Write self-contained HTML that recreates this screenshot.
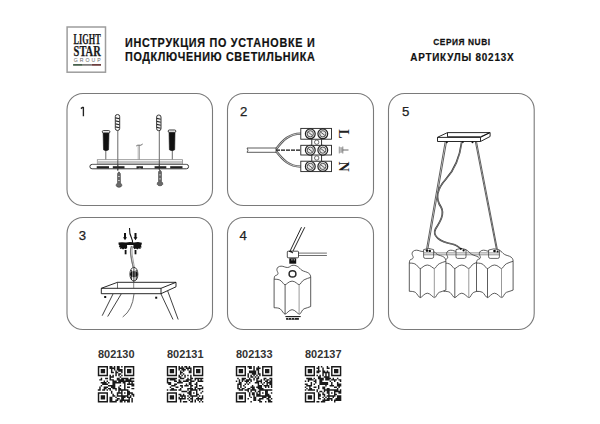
<!DOCTYPE html>
<html><head><meta charset="utf-8">
<style>
html,body{margin:0;padding:0;background:#fff;}
body{width:600px;height:424px;overflow:hidden;position:relative;}
svg{position:absolute;left:0;top:0;}
</style></head>
<body>
<svg width="600" height="424" viewBox="0 0 600 424">
<defs>
<g id="shade" stroke="#333" stroke-width="0.8" stroke-linejoin="round" fill="none">
  <path d="M0 13.8 C0.2 12 0.3 10.8 1.2 10.3 C2.5 9.8 3.8 9.5 3.9 8.2 C4 6.8 2.6 5.8 2.8 4 C3 2.2 4.5 1 7 0.9 C9.5 0.8 11 2.3 13.6 2.2 C16 2.1 16.5 0 19 0 C21.5 0 23 0.8 24.5 2 C26 3.2 27 5 29.5 5.8 C32 6.6 34.5 7.2 35.8 9 C36.5 10 36.6 11 36.6 12 L36.6 40.8 C34.5 41.8 32.5 42 30 43 C27.5 44 27 48.3 25.3 48.3 C23.5 48.3 21 43.9 18 43.9 C15 43.9 12.5 48.3 11 48.3 C9.5 48.3 8 44.5 6 43 C4.5 42.2 2.5 42 0 42 Z" fill="#fff" stroke="none"/>
  <path d="M0 13.8 C0.2 12 0.3 10.8 1.2 10.3 C2.5 9.8 3.8 9.5 3.9 8.2 C4 6.8 2.6 5.8 2.8 4 C3 2.2 4.5 1 7 0.9 C9.5 0.8 11 2.3 13.6 2.2 C16 2.1 16.5 0 19 0 C21.5 0 23 0.8 24.5 2 C26 3.2 27 5 29.5 5.8 C32 6.6 34.5 7.2 35.8 9 C36.5 10 36.6 11 36.6 12"/>
  <path d="M0 13.8 C3 13.8 5 13.9 7 15.5 C9 17.2 9.5 19.2 11 19.2 C12.5 19.2 14.5 15.7 18 15.7 C21.5 15.7 23.5 19.2 25 19.2 C26.5 19.2 27.5 15.5 30 14.4 C32.5 13.3 34.5 12.5 36.6 12"/>
  <path d="M0 42 C2.5 42 4.5 42.2 6 43 C8 44.5 9.5 48.3 11 48.3 C12.5 48.3 15 43.9 18 43.9 C21 43.9 23.5 48.3 25.3 48.3 C27 48.3 27.5 44 30 43 C32.5 42 34.5 41.8 36.6 40.8"/>
  <path d="M0 13.8 L0 42 M36.6 12 L36.6 40.8 M11 19.2 L11 48.3"/>
  <path d="M25 19.2 L25 48.3" stroke="#999" stroke-width="1"/>
</g>
</defs>
<!-- logo -->
<rect x="67.1" y="27" width="38.4" height="45.2" fill="#fff" stroke="#9d9d9d" stroke-width="1.5"/>
<text x="73.6" y="43.9" font-family="Liberation Serif" font-weight="bold" font-size="14" textLength="27.1" lengthAdjust="spacingAndGlyphs" fill="#1a1a1a" stroke="#1a1a1a" stroke-width="0.25">LIGHT</text>
<text x="73.6" y="55.8" font-family="Liberation Serif" font-weight="bold" font-size="14" textLength="27.1" lengthAdjust="spacingAndGlyphs" fill="#1a1a1a" stroke="#1a1a1a" stroke-width="0.25">STAR</text>
<text x="73.8" y="61.7" font-family="Liberation Sans" font-size="5.2" textLength="26.8" lengthAdjust="spacing" fill="#666">GROUP</text>
<rect x="73.1" y="64.1" width="9.6" height="1.6" fill="#34503a"/>
<rect x="82.7" y="64.1" width="9" height="1.6" fill="#727070"/>
<rect x="91.7" y="64.1" width="9.3" height="1.6" fill="#5e2c2c"/>

<!-- header -->
<g font-family="Liberation Sans" font-weight="bold" fill="#111">
<text transform="translate(125,0) scale(0.9,1)" x="0" y="46.6" font-size="12" textLength="210.8" lengthAdjust="spacing" stroke="#111" stroke-width="0.2">ИНСТРУКЦИЯ ПО УСТАНОВКЕ И</text>
<text transform="translate(125,0) scale(0.9,1)" x="0" y="60.7" font-size="12" textLength="210.8" lengthAdjust="spacing" stroke="#111" stroke-width="0.2">ПОДКЛЮЧЕНИЮ СВЕТИЛЬНИКА</text>
<text transform="translate(433.3,0) scale(0.86,1)" x="0" y="44.8" font-size="9.7" textLength="66" lengthAdjust="spacing" stroke="#111" stroke-width="0.25">СЕРИЯ NUBI</text>
<text transform="translate(410.2,0) scale(0.9,1)" x="0" y="60.9" font-size="11" textLength="114.9" lengthAdjust="spacing" stroke="#111" stroke-width="0.2">АРТИКУЛЫ 80213X</text>
</g>

<!-- panels -->
<g fill="none" stroke="#7a7a7a" stroke-width="1.1">
<rect x="67" y="93.5" width="145.5" height="112" rx="16" ry="16"/>
<rect x="227.5" y="93.5" width="146" height="112" rx="16" ry="16"/>
<rect x="67" y="217.5" width="145.5" height="112" rx="16" ry="16"/>
<rect x="227.5" y="217.5" width="146" height="112" rx="16" ry="16"/>
<rect x="388.5" y="93.5" width="145.7" height="236" rx="16" ry="16"/>
</g>
<g font-family="Liberation Sans" font-size="13.2" fill="#222" stroke="#222" stroke-width="0.25">

<text x="240" y="116.3">2</text>
<text x="78.8" y="240">3</text>
<text x="239.5" y="240">4</text>
<text x="401.9" y="116.3">5</text>
</g>

<path d="M83.4 116.2 L83.4 107.3 L82.6 107.3 L80.9 108.6" fill="none" stroke="#222" stroke-width="1.35" stroke-linejoin="round"/>
<!-- article numbers -->
<g font-family="Liberation Sans" font-weight="bold" font-size="10" fill="#333">
<text x="98" y="357.8" textLength="36.5" lengthAdjust="spacingAndGlyphs">802130</text>
<text x="167" y="357.8" textLength="36.5" lengthAdjust="spacingAndGlyphs">802131</text>
<text x="236" y="357.8" textLength="36.5" lengthAdjust="spacingAndGlyphs">802133</text>
<text x="305" y="357.8" textLength="36.5" lengthAdjust="spacingAndGlyphs">802137</text>
</g>

<!-- PANEL1 -->
<g stroke="#222" stroke-width="0.9" fill="#f4f4f4">
  <rect x="115.3" y="114.5" width="4.4" height="16" rx="2.1" ry="2.1"/>
  <rect x="156.6" y="115" width="4.4" height="15.7" rx="2.1" ry="2.1"/>
</g>
<g fill="#222">
  <path d="M115.6 117.3 L119.4 118.3 L119.4 119.2 L115.6 118.4Z M115.6 120.3 L119.4 121.3 L119.4 122.2 L115.6 121.4Z M115.6 123.3 L119.4 124.3 L119.4 125.2 L115.6 124.4Z M115.6 126.3 L119.4 127.3 L119.4 128.2 L115.6 127.4Z"/>
  <path d="M156.9 117.8 L160.7 118.8 L160.7 119.7 L156.9 118.9Z M156.9 120.8 L160.7 121.8 L160.7 122.7 L156.9 121.9Z M156.9 123.8 L160.7 124.8 L160.7 125.7 L156.9 124.9Z M156.9 126.8 L160.7 127.8 L160.7 128.7 L156.9 127.9Z"/>
</g>
<g stroke="#444" stroke-width="0.8" fill="none">
  <line x1="117.8" y1="130.5" x2="117.8" y2="171"/>
  <line x1="159.3" y1="130.7" x2="159.3" y2="170"/>
  <line x1="105.8" y1="150" x2="105.8" y2="160"/>
  <line x1="172.3" y1="150" x2="172.3" y2="160"/>
</g>
<g stroke="#777" stroke-width="0.6" fill="none">
  <line x1="138.2" y1="145.5" x2="138.2" y2="160"/>
  <line x1="139.5" y1="145.5" x2="139.5" y2="160"/>
</g>
<path d="M136.2 146 Q137.8 144.8 139 145.2 Q141 145.8 142.7 144" stroke="#333" stroke-width="0.7" fill="none"/>
<!-- dowels black -->
<g fill="#111" stroke="#1a1a1a" stroke-width="0.6">
  <path d="M103.1 132.6 L109 132.6 L108.6 149.8 Q106 151.6 103.5 149.8 Z"/>
  <path d="M169 132.2 L175 132.2 L174.7 149.8 Q172 151.6 169.4 149.8 Z"/>
</g>
<g fill="#fff" stroke="#222" stroke-width="0.9">
  <rect x="102.3" y="130.6" width="7.6" height="2.3" rx="1.1"/>
  <rect x="168.2" y="130" width="7.6" height="2.3" rx="1.1"/>
</g>
<!-- bracket -->
<rect x="97.3" y="159.7" width="85.2" height="4.6" fill="#fff" stroke="#888" stroke-width="0.8"/>
<rect x="97.8" y="161" width="84.2" height="3.6" fill="#c4c4c4"/>
<rect x="89.9" y="164.4" width="98.7" height="4.4" rx="2.2" ry="2.2" fill="none" stroke="#222" stroke-width="0.9"/>
<line x1="92" y1="164.4" x2="186.5" y2="164.4" stroke="#999" stroke-width="0.6"/>
<g fill="#222">
  <rect x="96.7" y="166.2" width="12.3" height="2.2"/>
  <rect x="112.8" y="166.2" width="11.7" height="2.2"/>
  <path d="M136.5 166.2 L143 166.2 L143 168.4 L141.5 168.4 Q139.8 167.2 138 168.4 L136.5 168.4 Z"/>
  <rect x="154.6" y="166.2" width="11.7" height="2.2"/>
  <rect x="170.2" y="166.2" width="12.3" height="2.2"/>
</g>
<line x1="117.8" y1="159.7" x2="117.8" y2="170" stroke="#333" stroke-width="0.8"/>
<line x1="159.3" y1="159.7" x2="159.3" y2="169.5" stroke="#333" stroke-width="0.8"/>
<!-- lower screws -->
<g fill="#6a6a6a" stroke="#333" stroke-width="0.6">
  <path d="M118.9 171.8 L117.6 173.5 L117.6 183 Q115.9 184.2 116.2 185.8 Q117 187.3 119 187.3 Q121 187.3 121.8 185.8 Q122 184.2 120.4 183 L120.3 173.5 Z"/>
  <path d="M160 170 L158.6 171.7 L158.6 181.5 Q157 182.7 157.2 184.3 Q158 185.8 160 185.8 Q162 185.8 162.8 184.3 Q163 182.7 161.4 181.5 L161.4 171.7 Z"/>
</g>
<g fill="#ddd">
  <rect x="118" y="176" width="1.8" height="0.8"/><rect x="118" y="180" width="1.8" height="0.8"/>
  <rect x="159.1" y="174.5" width="1.8" height="0.8"/><rect x="159.1" y="178.5" width="1.8" height="0.8"/>
</g>
<!-- PANEL2 -->
<g fill="none">
  <path d="M276 149.3 C 283 140, 289 133.8, 300.8 133.6" stroke="#555" stroke-width="2.3"/>
  <path d="M276 149.3 C 283 140, 289 133.8, 300.8 133.6" stroke="#ddd" stroke-width="0.8"/>
  <path d="M276 151 C 283 160, 289 166.4, 300.8 166.6" stroke="#555" stroke-width="2.3"/>
  <path d="M276 151 C 283 160, 289 166.4, 300.8 166.6" stroke="#ddd" stroke-width="0.8"/>
  <line x1="276" y1="150.2" x2="300.8" y2="150.2" stroke="#111" stroke-width="1.3" stroke-dasharray="4 1"/>
</g>
<path d="M247 148 L276 148 L276 152.3 L247 152.3 L248 150.2 Z" fill="#fff" stroke="#333" stroke-width="0.8"/>
<g stroke="#222" stroke-width="0.9" fill="#fff">
  <rect x="311.8" y="138.7" width="9.8" height="7"/>
  <rect x="311.8" y="154.5" width="9.8" height="7"/>
  <rect x="300.8" y="128.4" width="30.7" height="10.8"/>
  <rect x="300.8" y="145.3" width="30.7" height="9.7"/>
  <rect x="300.8" y="161.2" width="30.7" height="10.4"/>
</g>
<g stroke="#333" stroke-width="0.7" fill="none">
  <circle cx="316.7" cy="142.2" r="2.2"/>
  <circle cx="316.7" cy="158" r="2.2"/>
</g>
<g id="scr">
</g>
<circle cx="310.3" cy="133.8" r="4.9" fill="#e8e8e8" stroke="#222" stroke-width="1.2"/><circle cx="310.3" cy="133.8" r="3.1" fill="none" stroke="#444" stroke-width="0.9"/><line x1="308.3" y1="132.20000000000002" x2="312.3" y2="135.4" stroke="#333" stroke-width="0.8"/><circle cx="322.8" cy="133.8" r="4.9" fill="#e8e8e8" stroke="#222" stroke-width="1.2"/><circle cx="322.8" cy="133.8" r="3.1" fill="none" stroke="#444" stroke-width="0.9"/><line x1="320.8" y1="132.20000000000002" x2="324.8" y2="135.4" stroke="#333" stroke-width="0.8"/><circle cx="310.3" cy="150.15" r="4.9" fill="#e8e8e8" stroke="#222" stroke-width="1.2"/><circle cx="310.3" cy="150.15" r="3.1" fill="none" stroke="#444" stroke-width="0.9"/><line x1="308.3" y1="148.55" x2="312.3" y2="151.75" stroke="#333" stroke-width="0.8"/><circle cx="322.8" cy="150.15" r="4.9" fill="#e8e8e8" stroke="#222" stroke-width="1.2"/><circle cx="322.8" cy="150.15" r="3.1" fill="none" stroke="#444" stroke-width="0.9"/><line x1="320.8" y1="148.55" x2="324.8" y2="151.75" stroke="#333" stroke-width="0.8"/><circle cx="310.3" cy="166.4" r="4.9" fill="#e8e8e8" stroke="#222" stroke-width="1.2"/><circle cx="310.3" cy="166.4" r="3.1" fill="none" stroke="#444" stroke-width="0.9"/><line x1="308.3" y1="164.8" x2="312.3" y2="168.0" stroke="#333" stroke-width="0.8"/><circle cx="322.8" cy="166.4" r="4.9" fill="#e8e8e8" stroke="#222" stroke-width="1.2"/><circle cx="322.8" cy="166.4" r="3.1" fill="none" stroke="#444" stroke-width="0.9"/><line x1="320.8" y1="164.8" x2="324.8" y2="168.0" stroke="#333" stroke-width="0.8"/>
<g font-family="Liberation Serif" font-weight="bold" font-size="14" fill="#222">
  <text transform="translate(339,129.3) rotate(90)" x="0" y="0">L</text>
  <text transform="translate(339,161.6) rotate(90)" x="0" y="0">N</text>
</g>
<path d="M338.6 146.6 L342.6 147.8 L342.6 152.2 L338.6 153.4 Z" fill="#c4c4c4"/>
<g stroke="#999" stroke-width="0.7">
  <line x1="339.5" y1="146.6" x2="339.5" y2="153.4"/>
  <line x1="341.3" y1="147.3" x2="341.3" y2="152.7"/>
</g>
<line x1="342.8" y1="146.5" x2="342.8" y2="153.5" stroke="#666" stroke-width="0.8"/>
<line x1="342.8" y1="150" x2="348.5" y2="150" stroke="#444" stroke-width="0.8"/>

<!-- PANEL3 -->
<path d="M129.5 228 Q129.3 234 131.5 238 Q133 241 132.3 243" fill="none" stroke="#111" stroke-width="1.1"/>
<path d="M131.5 246 Q130 250 130.6 254 Q131.5 262 133.3 267.4" fill="none" stroke="#777" stroke-width="1.1"/>
<g fill="#111">
  <path d="M118.5 242.6 L122 242.2 L126 242.6 L130 242.1 L134 242.5 L138 242.1 L141.9 242.7 L141.6 244.6 L141 246 L141.8 247.2 L140.2 247.8 L140.8 249 L138.5 248.6 L137.3 249.4 L136 248.5 L134.5 249.2 L133.2 247.5 L133.5 245 L127 245 L127.2 247.6 L126 249.3 L124.5 248.4 L123 249.4 L121.8 248.5 L119.8 249.1 L120.4 247.6 L118.8 247 L119.6 245.8 L118.6 244.6 Z"/>
  <path d="M124 233 L126 233 L126 237.3 L127 237.3 L125 240.2 L123 237.3 L124 237.3 Z"/>
  <path d="M134.5 233 L136.5 233 L136.5 237.3 L137.5 237.3 L135.5 240.2 L133.5 237.3 L134.5 237.3 Z"/>
  <rect x="124.7" y="250" width="1.8" height="4.3"/>
  <rect x="134.6" y="250" width="1.8" height="4.3"/>
</g>
<!-- oval connector -->
<path d="M131.5 246 Q130 250 130.8 255 Q132 261 133 267.4 M132.8 246 Q131.5 250 132.2 255 Q133.3 261 134.4 267.4" fill="none" stroke="#777" stroke-width="0.7"/>
<ellipse cx="133.9" cy="274.2" rx="4" ry="6.9" fill="#fff" stroke="#222" stroke-width="0.9"/>
<ellipse cx="133.9" cy="274.2" rx="3.8" ry="3" fill="#111"/>
<path d="M131.6 270 L131.6 280 M133.9 268 L133.9 281 M136.2 270 L136.2 280" stroke="#111" stroke-width="0.8"/>
<path d="M132.7 271.5 L132.7 277 M135.1 271.5 L135.1 277" stroke="#fff" stroke-width="0.6"/>
<line x1="133.7" y1="280.5" x2="133.7" y2="288.3" stroke="#444" stroke-width="0.8"/>
<!-- frame -->
<g stroke="#111" stroke-width="0.9" fill="#fff" stroke-linejoin="round">
  <path d="M101.3 288.3 L117.5 282.3 L176 282.3 L176 286.8 L161 293.7 L101.3 293.7 Z"/>
  <path d="M101.3 288.3 L161 288.3 L176 282.3 M161 288.3 L161 293.7" fill="none"/>
  <line x1="117.5" y1="282.3" x2="117.5" y2="288.3" stroke-width="0.6"/>
</g>
<line x1="133.7" y1="282.3" x2="133.7" y2="288.3" stroke="#555" stroke-width="0.7"/>
<g stroke="#111" stroke-width="0.8" fill="none">
  <line x1="113" y1="294" x2="102.2" y2="315.7"/>
  <line x1="121.2" y1="294" x2="107.7" y2="316.5"/>
  <line x1="161" y1="294" x2="173" y2="319.5"/>
  <line x1="167.7" y1="291" x2="178.2" y2="319.5"/>
  <path d="M134 294 Q132.5 310 122.7 317" stroke="#444"/>
</g>
<rect x="104.2" y="296" width="2" height="2" fill="#111"/>
<rect x="155.2" y="296.7" width="2" height="2" fill="#111"/>

<!-- PANEL4 -->
<g stroke="#1a1a1a" stroke-width="0.95" fill="none">
  <line x1="301.5" y1="227.2" x2="290.1" y2="251"/>
  <line x1="304.8" y1="227.2" x2="293" y2="251"/>
</g>
<g transform="translate(274.1 265.25) scale(1 1.012)"><use href="#shade"/></g>
<ellipse cx="292.5" cy="273.9" rx="3.4" ry="3.05" fill="#fff" stroke="#2a2a2a" stroke-width="1.5"/>
<rect x="289.3" y="258.3" width="6.9" height="5.4" fill="#111"/>
<g fill="#fff"><rect x="291.5" y="259.2" width="0.9" height="1.2"/><rect x="293.8" y="259.2" width="0.9" height="1.2"/></g>
<path d="M298.3 253.1 L326.9 253.1 M298.3 255.5 L326.9 255.5" stroke="#555" stroke-width="0.85" fill="none"/>
<rect x="287.3" y="251.2" width="11.2" height="6.6" rx="0.8" fill="#fff" stroke="#222" stroke-width="0.8"/>
<path d="M289 251.3 L291.6 251.3 L293 253 Z" fill="#111" stroke="#111" stroke-width="0.6"/>
<rect x="285.4" y="316" width="15.3" height="1.1" fill="#222"/>
<rect x="286.1" y="317.9" width="12.8" height="1.9" fill="#222"/>
<g fill="#fff"><rect x="288" y="318.4" width="1" height="0.9"/><rect x="291" y="318.4" width="1" height="0.9"/><rect x="294" y="318.4" width="1" height="0.9"/></g>

<!-- PANEL5 -->
<g stroke="#111" stroke-width="0.9" fill="#fff" stroke-linejoin="round">
  <path d="M437.5 137.3 L447.5 132.6 L490.1 132.6 L490.1 136.5 L480.5 141.5 L437.5 141.5 Z"/>
  <path d="M447.5 132.6 L447.5 136.8 L480.5 136.8 L489 133 M437.5 137.4 L480.5 137.4 L490.1 132.6 M480.5 137.4 L480.5 141.5" fill="none"/>
</g>
<g fill="#111"><circle cx="446.8" cy="142.2" r="1"/><circle cx="462.8" cy="142" r="1"/><circle cx="472.5" cy="142.3" r="1"/></g>
<g stroke="#1a1a1a" stroke-width="0.7" fill="none">
  <line x1="445.1" y1="142" x2="426.2" y2="251"/>
  <line x1="446.5" y1="142" x2="427.5" y2="251"/>
  <line x1="475.4" y1="142" x2="496.7" y2="251"/>
  <line x1="476.6" y1="142" x2="497.7" y2="251"/>
</g>
<path d="M461.7 142.1 C 460 155, 456 168, 446 179 C 436 190, 436 200, 441 207 C 445 214, 440 222, 435.5 229 C 432 236, 440 242, 452 244 C 457 245, 459 247, 460.5 249" stroke="#333" stroke-width="1.7" fill="none"/><path d="M461.7 142.1 C 460 155, 456 168, 446 179 C 436 190, 436 200, 441 207 C 445 214, 440 222, 435.5 229 C 432 236, 440 242, 452 244 C 457 245, 459 247, 460.5 249" stroke="#ccc" stroke-width="0.45" fill="none"/>
<use href="#shade" x="443.8" y="249.3"/>
<use href="#shade" x="409.3" y="249.3"/>
<use href="#shade" x="476.5" y="249.3"/>
<g fill="#fff" stroke="#333" stroke-width="0.75">
  <path d="M423.6 249.6 Q428.5 247.2 433.6 249.6 L433.6 256.8 Q433.6 258.4 432 258.4 L425.2 258.4 Q423.6 258.4 423.6 256.8 Z"/>
  <path d="M456 249.6 Q461 247.2 466 249.6 L466 256.8 Q466 258.4 464.4 258.4 L457.6 258.4 Q456 258.4 456 256.8 Z"/>
  <path d="M488.6 250 Q494 247.6 499.4 250 L499.4 256.8 Q499.4 258.4 497.8 258.4 L490.2 258.4 Q488.6 258.4 488.6 256.8 Z"/>
</g>
<path d="M424 252.9 L499.5 252.9 M424 254.8 L499.5 254.8" stroke="#444" stroke-width="0.6" fill="none"/>
<g fill="#111"><circle cx="427" cy="250.6" r="1.3"/><circle cx="429.8" cy="250.9" r="1.2"/><circle cx="460.8" cy="248.8" r="1.1"/><circle cx="463.6" cy="250.4" r="1.1"/><circle cx="494.5" cy="251" r="1.3"/><circle cx="497.6" cy="251.6" r="1"/></g>

<!--QR-->
<path fill="#1a1a1a" d="M97.80 366.00h10.22v1.46h-10.22zM109.48 366.00h2.92v1.46h-2.92zM113.86 366.00h1.46v1.46h-1.46zM116.78 366.00h2.92v1.46h-2.92zM121.16 366.00h1.46v1.46h-1.46zM124.08 366.00h10.22v1.46h-10.22zM97.80 367.46h1.46v1.46h-1.46zM106.56 367.46h1.46v1.46h-1.46zM109.48 367.46h5.84v1.46h-5.84zM116.78 367.46h2.92v1.46h-2.92zM124.08 367.46h1.46v1.46h-1.46zM132.84 367.46h1.46v1.46h-1.46zM97.80 368.92h1.46v1.46h-1.46zM100.72 368.92h4.38v1.46h-4.38zM106.56 368.92h1.46v1.46h-1.46zM110.94 368.92h1.46v1.46h-1.46zM113.86 368.92h1.46v1.46h-1.46zM116.78 368.92h5.84v1.46h-5.84zM124.08 368.92h1.46v1.46h-1.46zM127.00 368.92h4.38v1.46h-4.38zM132.84 368.92h1.46v1.46h-1.46zM97.80 370.38h1.46v1.46h-1.46zM100.72 370.38h4.38v1.46h-4.38zM106.56 370.38h1.46v1.46h-1.46zM110.94 370.38h1.46v1.46h-1.46zM115.32 370.38h1.46v1.46h-1.46zM118.24 370.38h4.38v1.46h-4.38zM124.08 370.38h1.46v1.46h-1.46zM127.00 370.38h4.38v1.46h-4.38zM132.84 370.38h1.46v1.46h-1.46zM97.80 371.84h1.46v1.46h-1.46zM100.72 371.84h4.38v1.46h-4.38zM106.56 371.84h1.46v1.46h-1.46zM110.94 371.84h2.92v1.46h-2.92zM115.32 371.84h2.92v1.46h-2.92zM121.16 371.84h1.46v1.46h-1.46zM124.08 371.84h1.46v1.46h-1.46zM127.00 371.84h4.38v1.46h-4.38zM132.84 371.84h1.46v1.46h-1.46zM97.80 373.30h1.46v1.46h-1.46zM106.56 373.30h1.46v1.46h-1.46zM115.32 373.30h1.46v1.46h-1.46zM118.24 373.30h2.92v1.46h-2.92zM124.08 373.30h1.46v1.46h-1.46zM132.84 373.30h1.46v1.46h-1.46zM97.80 374.76h10.22v1.46h-10.22zM109.48 374.76h1.46v1.46h-1.46zM112.40 374.76h1.46v1.46h-1.46zM115.32 374.76h1.46v1.46h-1.46zM118.24 374.76h1.46v1.46h-1.46zM121.16 374.76h1.46v1.46h-1.46zM124.08 374.76h10.22v1.46h-10.22zM109.48 376.22h4.38v1.46h-4.38zM119.70 376.22h1.46v1.46h-1.46zM100.72 377.68h1.46v1.46h-1.46zM105.10 377.68h2.92v1.46h-2.92zM109.48 377.68h1.46v1.46h-1.46zM116.78 377.68h2.92v1.46h-2.92zM121.16 377.68h7.30v1.46h-7.30zM129.92 377.68h4.38v1.46h-4.38zM99.26 379.14h2.92v1.46h-2.92zM109.48 379.14h4.38v1.46h-4.38zM116.78 379.14h7.30v1.46h-7.30zM125.54 379.14h5.84v1.46h-5.84zM103.64 380.60h1.46v1.46h-1.46zM106.56 380.60h1.46v1.46h-1.46zM112.40 380.60h4.38v1.46h-4.38zM118.24 380.60h16.06v1.46h-16.06zM100.72 382.06h5.84v1.46h-5.84zM108.02 382.06h1.46v1.46h-1.46zM112.40 382.06h8.76v1.46h-8.76zM122.62 382.06h2.92v1.46h-2.92zM128.46 382.06h1.46v1.46h-1.46zM131.38 382.06h1.46v1.46h-1.46zM102.18 383.52h5.84v1.46h-5.84zM112.40 383.52h2.92v1.46h-2.92zM124.08 383.52h1.46v1.46h-1.46zM127.00 383.52h7.30v1.46h-7.30zM100.72 384.98h1.46v1.46h-1.46zM108.02 384.98h7.30v1.46h-7.30zM119.70 384.98h1.46v1.46h-1.46zM124.08 384.98h1.46v1.46h-1.46zM131.38 384.98h2.92v1.46h-2.92zM99.26 386.44h1.46v1.46h-1.46zM103.64 386.44h4.38v1.46h-4.38zM110.94 386.44h4.38v1.46h-4.38zM118.24 386.44h1.46v1.46h-1.46zM124.08 386.44h1.46v1.46h-1.46zM127.00 386.44h2.92v1.46h-2.92zM99.26 387.90h1.46v1.46h-1.46zM103.64 387.90h2.92v1.46h-2.92zM108.02 387.90h2.92v1.46h-2.92zM112.40 387.90h4.38v1.46h-4.38zM118.24 387.90h2.92v1.46h-2.92zM124.08 387.90h1.46v1.46h-1.46zM131.38 387.90h2.92v1.46h-2.92zM97.80 389.36h2.92v1.46h-2.92zM102.18 389.36h2.92v1.46h-2.92zM106.56 389.36h1.46v1.46h-1.46zM109.48 389.36h1.46v1.46h-1.46zM115.32 389.36h1.46v1.46h-1.46zM118.24 389.36h10.22v1.46h-10.22zM110.94 390.82h1.46v1.46h-1.46zM118.24 390.82h1.46v1.46h-1.46zM121.16 390.82h1.46v1.46h-1.46zM127.00 390.82h2.92v1.46h-2.92zM97.80 392.28h10.22v1.46h-10.22zM110.94 392.28h1.46v1.46h-1.46zM116.78 392.28h5.84v1.46h-5.84zM124.08 392.28h1.46v1.46h-1.46zM127.00 392.28h5.84v1.46h-5.84zM97.80 393.74h1.46v1.46h-1.46zM106.56 393.74h1.46v1.46h-1.46zM112.40 393.74h1.46v1.46h-1.46zM116.78 393.74h1.46v1.46h-1.46zM121.16 393.74h1.46v1.46h-1.46zM127.00 393.74h2.92v1.46h-2.92zM131.38 393.74h2.92v1.46h-2.92zM97.80 395.20h1.46v1.46h-1.46zM100.72 395.20h4.38v1.46h-4.38zM106.56 395.20h1.46v1.46h-1.46zM112.40 395.20h2.92v1.46h-2.92zM116.78 395.20h11.68v1.46h-11.68zM129.92 395.20h1.46v1.46h-1.46zM132.84 395.20h1.46v1.46h-1.46zM97.80 396.66h1.46v1.46h-1.46zM100.72 396.66h4.38v1.46h-4.38zM106.56 396.66h1.46v1.46h-1.46zM109.48 396.66h2.92v1.46h-2.92zM115.32 396.66h1.46v1.46h-1.46zM121.16 396.66h4.38v1.46h-4.38zM127.00 396.66h4.38v1.46h-4.38zM97.80 398.12h1.46v1.46h-1.46zM100.72 398.12h4.38v1.46h-4.38zM106.56 398.12h1.46v1.46h-1.46zM109.48 398.12h2.92v1.46h-2.92zM116.78 398.12h2.92v1.46h-2.92zM121.16 398.12h2.92v1.46h-2.92zM128.46 398.12h1.46v1.46h-1.46zM131.38 398.12h1.46v1.46h-1.46zM97.80 399.58h1.46v1.46h-1.46zM106.56 399.58h1.46v1.46h-1.46zM109.48 399.58h2.92v1.46h-2.92zM115.32 399.58h2.92v1.46h-2.92zM119.70 399.58h10.22v1.46h-10.22zM131.38 399.58h1.46v1.46h-1.46zM97.80 401.04h10.22v1.46h-10.22zM109.48 401.04h7.30v1.46h-7.30zM119.70 401.04h2.92v1.46h-2.92zM124.08 401.04h1.46v1.46h-1.46zM127.00 401.04h2.92v1.46h-2.92zM131.38 401.04h1.46v1.46h-1.46z"/>
<path fill="#1a1a1a" d="M166.80 366.00h10.22v1.46h-10.22zM178.48 366.00h1.46v1.46h-1.46zM181.40 366.00h1.46v1.46h-1.46zM184.32 366.00h2.92v1.46h-2.92zM188.70 366.00h1.46v1.46h-1.46zM193.08 366.00h10.22v1.46h-10.22zM166.80 367.46h1.46v1.46h-1.46zM175.56 367.46h1.46v1.46h-1.46zM178.48 367.46h5.84v1.46h-5.84zM185.78 367.46h5.84v1.46h-5.84zM193.08 367.46h1.46v1.46h-1.46zM201.84 367.46h1.46v1.46h-1.46zM166.80 368.92h1.46v1.46h-1.46zM169.72 368.92h4.38v1.46h-4.38zM175.56 368.92h1.46v1.46h-1.46zM178.48 368.92h1.46v1.46h-1.46zM181.40 368.92h4.38v1.46h-4.38zM187.24 368.92h1.46v1.46h-1.46zM190.16 368.92h1.46v1.46h-1.46zM193.08 368.92h1.46v1.46h-1.46zM196.00 368.92h4.38v1.46h-4.38zM201.84 368.92h1.46v1.46h-1.46zM166.80 370.38h1.46v1.46h-1.46zM169.72 370.38h4.38v1.46h-4.38zM175.56 370.38h1.46v1.46h-1.46zM179.94 370.38h1.46v1.46h-1.46zM182.86 370.38h1.46v1.46h-1.46zM188.70 370.38h2.92v1.46h-2.92zM193.08 370.38h1.46v1.46h-1.46zM196.00 370.38h4.38v1.46h-4.38zM201.84 370.38h1.46v1.46h-1.46zM166.80 371.84h1.46v1.46h-1.46zM169.72 371.84h4.38v1.46h-4.38zM175.56 371.84h1.46v1.46h-1.46zM179.94 371.84h2.92v1.46h-2.92zM188.70 371.84h2.92v1.46h-2.92zM193.08 371.84h1.46v1.46h-1.46zM196.00 371.84h4.38v1.46h-4.38zM201.84 371.84h1.46v1.46h-1.46zM166.80 373.30h1.46v1.46h-1.46zM175.56 373.30h1.46v1.46h-1.46zM179.94 373.30h1.46v1.46h-1.46zM182.86 373.30h1.46v1.46h-1.46zM193.08 373.30h1.46v1.46h-1.46zM201.84 373.30h1.46v1.46h-1.46zM166.80 374.76h10.22v1.46h-10.22zM178.48 374.76h1.46v1.46h-1.46zM181.40 374.76h1.46v1.46h-1.46zM184.32 374.76h1.46v1.46h-1.46zM187.24 374.76h1.46v1.46h-1.46zM190.16 374.76h1.46v1.46h-1.46zM193.08 374.76h10.22v1.46h-10.22zM178.48 376.22h2.92v1.46h-2.92zM184.32 376.22h1.46v1.46h-1.46zM190.16 376.22h1.46v1.46h-1.46zM166.80 377.68h10.22v1.46h-10.22zM179.94 377.68h4.38v1.46h-4.38zM187.24 377.68h1.46v1.46h-1.46zM190.16 377.68h2.92v1.46h-2.92zM194.54 377.68h8.76v1.46h-8.76zM166.80 379.14h1.46v1.46h-1.46zM169.72 379.14h5.84v1.46h-5.84zM178.48 379.14h1.46v1.46h-1.46zM185.78 379.14h5.84v1.46h-5.84zM194.54 379.14h1.46v1.46h-1.46zM197.46 379.14h1.46v1.46h-1.46zM200.38 379.14h1.46v1.46h-1.46zM166.80 380.60h1.46v1.46h-1.46zM174.10 380.60h2.92v1.46h-2.92zM178.48 380.60h2.92v1.46h-2.92zM182.86 380.60h5.84v1.46h-5.84zM190.16 380.60h4.38v1.46h-4.38zM197.46 380.60h5.84v1.46h-5.84zM166.80 382.06h4.38v1.46h-4.38zM177.02 382.06h5.84v1.46h-5.84zM188.70 382.06h2.92v1.46h-2.92zM196.00 382.06h1.46v1.46h-1.46zM168.26 383.52h2.92v1.46h-2.92zM174.10 383.52h2.92v1.46h-2.92zM185.78 383.52h1.46v1.46h-1.46zM188.70 383.52h2.92v1.46h-2.92zM194.54 383.52h2.92v1.46h-2.92zM171.18 384.98h4.38v1.46h-4.38zM179.94 384.98h2.92v1.46h-2.92zM184.32 384.98h4.38v1.46h-4.38zM190.16 384.98h2.92v1.46h-2.92zM196.00 384.98h1.46v1.46h-1.46zM198.92 384.98h2.92v1.46h-2.92zM169.72 386.44h1.46v1.46h-1.46zM175.56 386.44h2.92v1.46h-2.92zM181.40 386.44h1.46v1.46h-1.46zM190.16 386.44h1.46v1.46h-1.46zM194.54 386.44h2.92v1.46h-2.92zM201.84 386.44h1.46v1.46h-1.46zM171.18 387.90h2.92v1.46h-2.92zM179.94 387.90h1.46v1.46h-1.46zM187.24 387.90h5.84v1.46h-5.84zM194.54 387.90h1.46v1.46h-1.46zM197.46 387.90h5.84v1.46h-5.84zM166.80 389.36h1.46v1.46h-1.46zM169.72 389.36h7.30v1.46h-7.30zM178.48 389.36h2.92v1.46h-2.92zM187.24 389.36h1.46v1.46h-1.46zM190.16 389.36h7.30v1.46h-7.30zM198.92 389.36h1.46v1.46h-1.46zM181.40 390.82h5.84v1.46h-5.84zM188.70 390.82h2.92v1.46h-2.92zM196.00 390.82h1.46v1.46h-1.46zM201.84 390.82h1.46v1.46h-1.46zM166.80 392.28h10.22v1.46h-10.22zM187.24 392.28h4.38v1.46h-4.38zM193.08 392.28h1.46v1.46h-1.46zM196.00 392.28h1.46v1.46h-1.46zM200.38 392.28h1.46v1.46h-1.46zM166.80 393.74h1.46v1.46h-1.46zM175.56 393.74h1.46v1.46h-1.46zM178.48 393.74h2.92v1.46h-2.92zM182.86 393.74h1.46v1.46h-1.46zM188.70 393.74h2.92v1.46h-2.92zM196.00 393.74h2.92v1.46h-2.92zM166.80 395.20h1.46v1.46h-1.46zM169.72 395.20h4.38v1.46h-4.38zM175.56 395.20h1.46v1.46h-1.46zM179.94 395.20h5.84v1.46h-5.84zM187.24 395.20h1.46v1.46h-1.46zM190.16 395.20h7.30v1.46h-7.30zM198.92 395.20h1.46v1.46h-1.46zM201.84 395.20h1.46v1.46h-1.46zM166.80 396.66h1.46v1.46h-1.46zM169.72 396.66h4.38v1.46h-4.38zM175.56 396.66h1.46v1.46h-1.46zM178.48 396.66h1.46v1.46h-1.46zM181.40 396.66h1.46v1.46h-1.46zM184.32 396.66h1.46v1.46h-1.46zM188.70 396.66h1.46v1.46h-1.46zM191.62 396.66h1.46v1.46h-1.46zM197.46 396.66h1.46v1.46h-1.46zM201.84 396.66h1.46v1.46h-1.46zM166.80 398.12h1.46v1.46h-1.46zM169.72 398.12h4.38v1.46h-4.38zM175.56 398.12h1.46v1.46h-1.46zM178.48 398.12h7.30v1.46h-7.30zM187.24 398.12h1.46v1.46h-1.46zM190.16 398.12h2.92v1.46h-2.92zM196.00 398.12h7.30v1.46h-7.30zM166.80 399.58h1.46v1.46h-1.46zM175.56 399.58h1.46v1.46h-1.46zM179.94 399.58h1.46v1.46h-1.46zM188.70 399.58h1.46v1.46h-1.46zM191.62 399.58h1.46v1.46h-1.46zM194.54 399.58h1.46v1.46h-1.46zM197.46 399.58h1.46v1.46h-1.46zM200.38 399.58h1.46v1.46h-1.46zM166.80 401.04h10.22v1.46h-10.22zM179.94 401.04h1.46v1.46h-1.46zM182.86 401.04h4.38v1.46h-4.38zM190.16 401.04h2.92v1.46h-2.92zM194.54 401.04h1.46v1.46h-1.46zM198.92 401.04h1.46v1.46h-1.46zM201.84 401.04h1.46v1.46h-1.46z"/>
<path fill="#1a1a1a" d="M235.80 366.00h10.22v1.46h-10.22zM247.48 366.00h4.38v1.46h-4.38zM253.32 366.00h1.46v1.46h-1.46zM257.70 366.00h1.46v1.46h-1.46zM262.08 366.00h10.22v1.46h-10.22zM235.80 367.46h1.46v1.46h-1.46zM244.56 367.46h1.46v1.46h-1.46zM248.94 367.46h2.92v1.46h-2.92zM253.32 367.46h1.46v1.46h-1.46zM256.24 367.46h4.38v1.46h-4.38zM262.08 367.46h1.46v1.46h-1.46zM270.84 367.46h1.46v1.46h-1.46zM235.80 368.92h1.46v1.46h-1.46zM238.72 368.92h4.38v1.46h-4.38zM244.56 368.92h1.46v1.46h-1.46zM253.32 368.92h1.46v1.46h-1.46zM256.24 368.92h2.92v1.46h-2.92zM262.08 368.92h1.46v1.46h-1.46zM265.00 368.92h4.38v1.46h-4.38zM270.84 368.92h1.46v1.46h-1.46zM235.80 370.38h1.46v1.46h-1.46zM238.72 370.38h4.38v1.46h-4.38zM244.56 370.38h1.46v1.46h-1.46zM248.94 370.38h7.30v1.46h-7.30zM257.70 370.38h1.46v1.46h-1.46zM262.08 370.38h1.46v1.46h-1.46zM265.00 370.38h4.38v1.46h-4.38zM270.84 370.38h1.46v1.46h-1.46zM235.80 371.84h1.46v1.46h-1.46zM238.72 371.84h4.38v1.46h-4.38zM244.56 371.84h1.46v1.46h-1.46zM248.94 371.84h7.30v1.46h-7.30zM257.70 371.84h1.46v1.46h-1.46zM262.08 371.84h1.46v1.46h-1.46zM265.00 371.84h4.38v1.46h-4.38zM270.84 371.84h1.46v1.46h-1.46zM235.80 373.30h1.46v1.46h-1.46zM244.56 373.30h1.46v1.46h-1.46zM247.48 373.30h1.46v1.46h-1.46zM251.86 373.30h4.38v1.46h-4.38zM257.70 373.30h2.92v1.46h-2.92zM262.08 373.30h1.46v1.46h-1.46zM270.84 373.30h1.46v1.46h-1.46zM235.80 374.76h10.22v1.46h-10.22zM247.48 374.76h1.46v1.46h-1.46zM250.40 374.76h1.46v1.46h-1.46zM253.32 374.76h1.46v1.46h-1.46zM256.24 374.76h1.46v1.46h-1.46zM259.16 374.76h1.46v1.46h-1.46zM262.08 374.76h10.22v1.46h-10.22zM247.48 376.22h1.46v1.46h-1.46zM250.40 376.22h2.92v1.46h-2.92zM254.78 376.22h1.46v1.46h-1.46zM257.70 376.22h1.46v1.46h-1.46zM237.26 377.68h1.46v1.46h-1.46zM241.64 377.68h4.38v1.46h-4.38zM248.94 377.68h1.46v1.46h-1.46zM253.32 377.68h1.46v1.46h-1.46zM256.24 377.68h2.92v1.46h-2.92zM263.54 377.68h2.92v1.46h-2.92zM269.38 377.68h2.92v1.46h-2.92zM238.72 379.14h1.46v1.46h-1.46zM241.64 379.14h2.92v1.46h-2.92zM246.02 379.14h5.84v1.46h-5.84zM253.32 379.14h1.46v1.46h-1.46zM256.24 379.14h1.46v1.46h-1.46zM260.62 379.14h1.46v1.46h-1.46zM263.54 379.14h1.46v1.46h-1.46zM266.46 379.14h2.92v1.46h-2.92zM270.84 379.14h1.46v1.46h-1.46zM235.80 380.60h1.46v1.46h-1.46zM238.72 380.60h1.46v1.46h-1.46zM241.64 380.60h1.46v1.46h-1.46zM244.56 380.60h4.38v1.46h-4.38zM250.40 380.60h1.46v1.46h-1.46zM256.24 380.60h5.84v1.46h-5.84zM265.00 380.60h2.92v1.46h-2.92zM269.38 380.60h2.92v1.46h-2.92zM238.72 382.06h2.92v1.46h-2.92zM246.02 382.06h1.46v1.46h-1.46zM248.94 382.06h1.46v1.46h-1.46zM254.78 382.06h4.38v1.46h-4.38zM260.62 382.06h1.46v1.46h-1.46zM263.54 382.06h1.46v1.46h-1.46zM266.46 382.06h5.84v1.46h-5.84zM237.26 383.52h4.38v1.46h-4.38zM244.56 383.52h1.46v1.46h-1.46zM247.48 383.52h1.46v1.46h-1.46zM257.70 383.52h1.46v1.46h-1.46zM262.08 383.52h1.46v1.46h-1.46zM266.46 383.52h1.46v1.46h-1.46zM269.38 383.52h2.92v1.46h-2.92zM237.26 384.98h1.46v1.46h-1.46zM240.18 384.98h1.46v1.46h-1.46zM243.10 384.98h1.46v1.46h-1.46zM251.86 384.98h1.46v1.46h-1.46zM257.70 384.98h4.38v1.46h-4.38zM263.54 384.98h5.84v1.46h-5.84zM270.84 384.98h1.46v1.46h-1.46zM237.26 386.44h1.46v1.46h-1.46zM240.18 386.44h1.46v1.46h-1.46zM244.56 386.44h1.46v1.46h-1.46zM250.40 386.44h4.38v1.46h-4.38zM256.24 386.44h5.84v1.46h-5.84zM265.00 386.44h1.46v1.46h-1.46zM267.92 386.44h1.46v1.46h-1.46zM270.84 386.44h1.46v1.46h-1.46zM237.26 387.90h2.92v1.46h-2.92zM241.64 387.90h2.92v1.46h-2.92zM247.48 387.90h2.92v1.46h-2.92zM251.86 387.90h2.92v1.46h-2.92zM257.70 387.90h5.84v1.46h-5.84zM238.72 389.36h4.38v1.46h-4.38zM244.56 389.36h4.38v1.46h-4.38zM250.40 389.36h5.84v1.46h-5.84zM259.16 389.36h13.14v1.46h-13.14zM247.48 390.82h1.46v1.46h-1.46zM250.40 390.82h1.46v1.46h-1.46zM254.78 390.82h1.46v1.46h-1.46zM257.70 390.82h2.92v1.46h-2.92zM265.00 390.82h2.92v1.46h-2.92zM235.80 392.28h10.22v1.46h-10.22zM248.94 392.28h1.46v1.46h-1.46zM251.86 392.28h2.92v1.46h-2.92zM256.24 392.28h1.46v1.46h-1.46zM259.16 392.28h1.46v1.46h-1.46zM262.08 392.28h1.46v1.46h-1.46zM265.00 392.28h2.92v1.46h-2.92zM270.84 392.28h1.46v1.46h-1.46zM235.80 393.74h1.46v1.46h-1.46zM244.56 393.74h1.46v1.46h-1.46zM248.94 393.74h1.46v1.46h-1.46zM251.86 393.74h2.92v1.46h-2.92zM256.24 393.74h4.38v1.46h-4.38zM265.00 393.74h4.38v1.46h-4.38zM235.80 395.20h1.46v1.46h-1.46zM238.72 395.20h4.38v1.46h-4.38zM244.56 395.20h1.46v1.46h-1.46zM248.94 395.20h1.46v1.46h-1.46zM253.32 395.20h1.46v1.46h-1.46zM256.24 395.20h14.60v1.46h-14.60zM235.80 396.66h1.46v1.46h-1.46zM238.72 396.66h4.38v1.46h-4.38zM244.56 396.66h1.46v1.46h-1.46zM250.40 396.66h1.46v1.46h-1.46zM253.32 396.66h2.92v1.46h-2.92zM262.08 396.66h4.38v1.46h-4.38zM267.92 396.66h2.92v1.46h-2.92zM235.80 398.12h1.46v1.46h-1.46zM238.72 398.12h4.38v1.46h-4.38zM244.56 398.12h1.46v1.46h-1.46zM247.48 398.12h1.46v1.46h-1.46zM253.32 398.12h2.92v1.46h-2.92zM259.16 398.12h4.38v1.46h-4.38zM266.46 398.12h2.92v1.46h-2.92zM270.84 398.12h1.46v1.46h-1.46zM235.80 399.58h1.46v1.46h-1.46zM244.56 399.58h1.46v1.46h-1.46zM253.32 399.58h2.92v1.46h-2.92zM257.70 399.58h2.92v1.46h-2.92zM267.92 399.58h2.92v1.46h-2.92zM235.80 401.04h10.22v1.46h-10.22zM250.40 401.04h1.46v1.46h-1.46zM259.16 401.04h2.92v1.46h-2.92zM265.00 401.04h1.46v1.46h-1.46zM267.92 401.04h4.38v1.46h-4.38z"/>
<path fill="#1a1a1a" d="M304.80 366.00h10.22v1.46h-10.22zM317.94 366.00h1.46v1.46h-1.46zM320.86 366.00h1.46v1.46h-1.46zM326.70 366.00h1.46v1.46h-1.46zM331.08 366.00h10.22v1.46h-10.22zM304.80 367.46h1.46v1.46h-1.46zM313.56 367.46h1.46v1.46h-1.46zM316.48 367.46h2.92v1.46h-2.92zM322.32 367.46h1.46v1.46h-1.46zM326.70 367.46h2.92v1.46h-2.92zM331.08 367.46h1.46v1.46h-1.46zM339.84 367.46h1.46v1.46h-1.46zM304.80 368.92h1.46v1.46h-1.46zM307.72 368.92h4.38v1.46h-4.38zM313.56 368.92h1.46v1.46h-1.46zM317.94 368.92h1.46v1.46h-1.46zM322.32 368.92h1.46v1.46h-1.46zM331.08 368.92h1.46v1.46h-1.46zM334.00 368.92h4.38v1.46h-4.38zM339.84 368.92h1.46v1.46h-1.46zM304.80 370.38h1.46v1.46h-1.46zM307.72 370.38h4.38v1.46h-4.38zM313.56 370.38h1.46v1.46h-1.46zM316.48 370.38h4.38v1.46h-4.38zM322.32 370.38h2.92v1.46h-2.92zM326.70 370.38h1.46v1.46h-1.46zM331.08 370.38h1.46v1.46h-1.46zM334.00 370.38h4.38v1.46h-4.38zM339.84 370.38h1.46v1.46h-1.46zM304.80 371.84h1.46v1.46h-1.46zM307.72 371.84h4.38v1.46h-4.38zM313.56 371.84h1.46v1.46h-1.46zM316.48 371.84h2.92v1.46h-2.92zM322.32 371.84h7.30v1.46h-7.30zM331.08 371.84h1.46v1.46h-1.46zM334.00 371.84h4.38v1.46h-4.38zM339.84 371.84h1.46v1.46h-1.46zM304.80 373.30h1.46v1.46h-1.46zM313.56 373.30h1.46v1.46h-1.46zM322.32 373.30h1.46v1.46h-1.46zM325.24 373.30h1.46v1.46h-1.46zM328.16 373.30h1.46v1.46h-1.46zM331.08 373.30h1.46v1.46h-1.46zM339.84 373.30h1.46v1.46h-1.46zM304.80 374.76h10.22v1.46h-10.22zM316.48 374.76h1.46v1.46h-1.46zM319.40 374.76h1.46v1.46h-1.46zM322.32 374.76h1.46v1.46h-1.46zM325.24 374.76h1.46v1.46h-1.46zM328.16 374.76h1.46v1.46h-1.46zM331.08 374.76h10.22v1.46h-10.22zM317.94 376.22h2.92v1.46h-2.92zM323.78 376.22h5.84v1.46h-5.84zM306.26 377.68h5.84v1.46h-5.84zM313.56 377.68h1.46v1.46h-1.46zM317.94 377.68h5.84v1.46h-5.84zM325.24 377.68h5.84v1.46h-5.84zM332.54 377.68h1.46v1.46h-1.46zM336.92 377.68h1.46v1.46h-1.46zM307.72 379.14h5.84v1.46h-5.84zM315.02 379.14h1.46v1.46h-1.46zM319.40 379.14h4.38v1.46h-4.38zM325.24 379.14h4.38v1.46h-4.38zM331.08 379.14h5.84v1.46h-5.84zM338.38 379.14h2.92v1.46h-2.92zM304.80 380.60h1.46v1.46h-1.46zM307.72 380.60h1.46v1.46h-1.46zM313.56 380.60h2.92v1.46h-2.92zM319.40 380.60h2.92v1.46h-2.92zM329.62 380.60h1.46v1.46h-1.46zM334.00 380.60h1.46v1.46h-1.46zM339.84 380.60h1.46v1.46h-1.46zM310.64 382.06h1.46v1.46h-1.46zM315.02 382.06h1.46v1.46h-1.46zM319.40 382.06h8.76v1.46h-8.76zM331.08 382.06h1.46v1.46h-1.46zM336.92 382.06h1.46v1.46h-1.46zM304.80 383.52h2.92v1.46h-2.92zM310.64 383.52h1.46v1.46h-1.46zM313.56 383.52h1.46v1.46h-1.46zM319.40 383.52h8.76v1.46h-8.76zM331.08 383.52h1.46v1.46h-1.46zM336.92 383.52h4.38v1.46h-4.38zM306.26 384.98h5.84v1.46h-5.84zM317.94 384.98h1.46v1.46h-1.46zM325.24 384.98h1.46v1.46h-1.46zM329.62 384.98h4.38v1.46h-4.38zM336.92 384.98h4.38v1.46h-4.38zM304.80 386.44h1.46v1.46h-1.46zM309.18 386.44h1.46v1.46h-1.46zM313.56 386.44h2.92v1.46h-2.92zM317.94 386.44h1.46v1.46h-1.46zM322.32 386.44h2.92v1.46h-2.92zM334.00 386.44h2.92v1.46h-2.92zM338.38 386.44h1.46v1.46h-1.46zM306.26 387.90h1.46v1.46h-1.46zM309.18 387.90h2.92v1.46h-2.92zM317.94 387.90h1.46v1.46h-1.46zM322.32 387.90h2.92v1.46h-2.92zM326.70 387.90h2.92v1.46h-2.92zM336.92 387.90h1.46v1.46h-1.46zM304.80 389.36h1.46v1.46h-1.46zM307.72 389.36h7.30v1.46h-7.30zM316.48 389.36h1.46v1.46h-1.46zM323.78 389.36h14.60v1.46h-14.60zM339.84 389.36h1.46v1.46h-1.46zM316.48 390.82h1.46v1.46h-1.46zM319.40 390.82h2.92v1.46h-2.92zM323.78 390.82h1.46v1.46h-1.46zM326.70 390.82h2.92v1.46h-2.92zM334.00 390.82h7.30v1.46h-7.30zM304.80 392.28h10.22v1.46h-10.22zM317.94 392.28h1.46v1.46h-1.46zM322.32 392.28h1.46v1.46h-1.46zM326.70 392.28h2.92v1.46h-2.92zM331.08 392.28h1.46v1.46h-1.46zM334.00 392.28h1.46v1.46h-1.46zM338.38 392.28h2.92v1.46h-2.92zM304.80 393.74h1.46v1.46h-1.46zM313.56 393.74h1.46v1.46h-1.46zM317.94 393.74h2.92v1.46h-2.92zM322.32 393.74h2.92v1.46h-2.92zM328.16 393.74h1.46v1.46h-1.46zM334.00 393.74h2.92v1.46h-2.92zM304.80 395.20h1.46v1.46h-1.46zM307.72 395.20h4.38v1.46h-4.38zM313.56 395.20h1.46v1.46h-1.46zM317.94 395.20h2.92v1.46h-2.92zM323.78 395.20h1.46v1.46h-1.46zM326.70 395.20h8.76v1.46h-8.76zM336.92 395.20h4.38v1.46h-4.38zM304.80 396.66h1.46v1.46h-1.46zM307.72 396.66h4.38v1.46h-4.38zM313.56 396.66h1.46v1.46h-1.46zM317.94 396.66h1.46v1.46h-1.46zM322.32 396.66h1.46v1.46h-1.46zM325.24 396.66h1.46v1.46h-1.46zM328.16 396.66h1.46v1.46h-1.46zM332.54 396.66h1.46v1.46h-1.46zM336.92 396.66h4.38v1.46h-4.38zM304.80 398.12h1.46v1.46h-1.46zM307.72 398.12h4.38v1.46h-4.38zM313.56 398.12h1.46v1.46h-1.46zM317.94 398.12h2.92v1.46h-2.92zM323.78 398.12h1.46v1.46h-1.46zM326.70 398.12h5.84v1.46h-5.84zM335.46 398.12h5.84v1.46h-5.84zM304.80 399.58h1.46v1.46h-1.46zM313.56 399.58h1.46v1.46h-1.46zM322.32 399.58h7.30v1.46h-7.30zM331.08 399.58h1.46v1.46h-1.46zM334.00 399.58h7.30v1.46h-7.30zM304.80 401.04h10.22v1.46h-10.22zM316.48 401.04h2.92v1.46h-2.92zM320.86 401.04h4.38v1.46h-4.38zM334.00 401.04h1.46v1.46h-1.46z"/>
<!--/QR-->
</svg>
</body></html>
